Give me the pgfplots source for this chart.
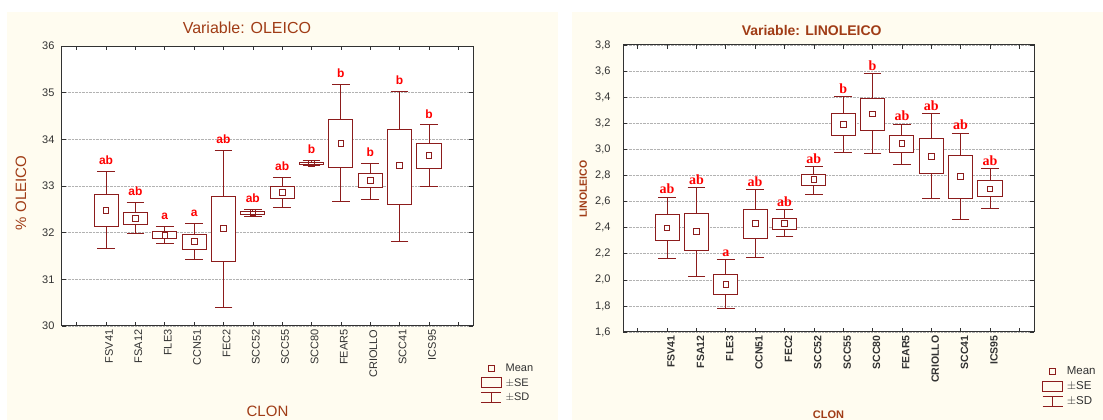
\documentclass[border=0pt]{standalone}
\usepackage{fontspec}
\setmainfont{Liberation Sans}
\newfontfamily\timesf{Liberation Serif}
\usepackage{pgfplots}
\usepackage{pgfplotstable}
\pgfplotsset{compat=1.18}
\definecolor{boxc}{RGB}{140,28,28}
\definecolor{labc}{RGB}{255,0,0}
\definecolor{titc}{RGB}{160,60,22}
\definecolor{cream}{RGB}{255,252,240}
\definecolor{axc}{RGB}{50,50,50}
% x  SD low  SE low  mean  SE high  SD high  letter
\pgfplotstableread{
x sdlo selo mean sehi sdhi l
1 31.66 32.14 32.48 32.82 33.31 ab
2 31.99 32.18 32.31 32.44 32.64 ab
3 31.77 31.88 31.94 32.03 32.14 a
4 31.43 31.65 31.81 31.97 32.20 a
5 30.39 31.39 32.09 32.78 33.76 ab
6 32.34 32.38 32.43 32.46 32.49 ab
7 32.54 32.74 32.86 33.00 33.18 ab
8 33.44 33.47 33.49 33.51 33.54 b
9 32.66 33.40 33.91 34.43 35.17 b
10 32.72 32.96 33.12 33.27 33.49 b
11 31.81 32.61 33.44 34.21 35.03 b
12 32.99 33.38 33.66 33.91 34.31 b
}\tabL
\pgfplotstableread{
x sdlo selo mean sehi sdhi l
1 2.160 2.300 2.398 2.498 2.635 ab
2 2.025 2.227 2.370 2.505 2.707 ab
3 1.778 1.887 1.964 2.040 2.153 a
4 2.168 2.320 2.431 2.536 2.690 ab
5 2.331 2.385 2.431 2.472 2.538 ab
6 2.658 2.722 2.768 2.810 2.867 ab
7 2.980 3.107 3.191 3.273 3.404 b
8 2.970 3.146 3.271 3.394 3.580 b
9 2.885 2.980 3.044 3.107 3.194 ab
10 2.620 2.819 2.946 3.084 3.273 ab
11 2.459 2.620 2.793 2.957 3.123 ab
12 2.548 2.636 2.697 2.763 2.852 ab
}\tabR
\newcommand{\bx}[3]{%
  \pgfmathsetmacro\xl{#1-0.41}\pgfmathsetmacro\xr{#1+0.41}%
  \addplot[boxc, fill=white, line width=0.9pt, forget plot, mark=none]
    coordinates {(\xl,#2) (\xr,#2) (\xr,#3) (\xl,#3)} --cycle;}
\pgfplotsset{
  common/.style={
    scale only axis, width=411pt,
    xmin=-0.5, xmax=13.5,
    xtick={0,...,13},
    xticklabels={,FSV41,FSA12,FLE3,CCN51,FEC2,SCC52,SCC55,SCC80,FEAR5,CRIOLLO,SCC41,ICS95,},
    tick align=inside, major tick length=4pt,
    tick style={axc, line width=0.6pt},
    axis line style={axc, line width=1pt},
    axis background/.style={fill=white},
    ymajorgrids, grid style={densely dotted, black!30, line width=0.6pt},
    /pgf/number format/assume math mode=true,
    legend cell align=left,
  },
  whiskup/.style={draw=none, mark=none, forget plot,
    error bars/.cd, y dir=plus, y explicit,
    error bar style={draw=boxc, line width=0.9pt},
    error mark=|, error mark options={draw=boxc, line width=0.9pt, mark size=8.8pt}},
  whisklo/.style={draw=none, mark=none, forget plot,
    error bars/.cd, y dir=minus, y explicit,
    error bar style={draw=boxc, line width=0.9pt},
    error mark=|, error mark options={draw=boxc, line width=0.9pt, mark size=8.8pt}},
  means/.style={only marks, mark=square, mark size=2.8pt, forget plot,
    mark options={draw=boxc, fill=white, line width=0.8pt}},
  leg/.style={legend style={draw=none, fill=none, inner sep=0pt, row sep=2.8pt, column sep=2.5pt, text=axc, nodes={inner sep=1.2pt}}},
}
\begin{document}
\begin{tikzpicture}
\path[use as bounding box] (0,0) rectangle (1103pt,420pt);
\fill[cream] (7pt,0) rectangle (558pt,408pt);
\fill[cream] (572pt,0) rectangle (1103pt,408pt);
% ---------------- LEFT: OLEICO
\begin{axis}[common, leg,
  at={(62pt,94pt)}, anchor=south west, height=280pt,
  ymin=30, ymax=36, ytick={30,...,36},
  yticklabel style={font=\fontsize{11}{12}\selectfont, text=axc, xshift=-4pt},
  xticklabel style={font=\fontsize{11}{12}\selectfont, text=axc, rotate=90, anchor=east, yshift=-3pt},
  title={Variable: OLEICO},
  title style={at={(0.45,1)}, anchor=center, yshift=12pt, font=\fontsize{16}{18}\selectfont, text=titc},
  xlabel={CLON},
  xlabel style={at={(axis description cs:0.5,-0.305)}, anchor=center, font=\fontsize{15}{17}\selectfont, text=titc},
  ylabel={\% OLEICO},
  ylabel style={at={(axis description cs:-0.0998,0.475)}, anchor=center, font=\fontsize{15}{17}\selectfont, text=titc},
  legend style={at={(1.019,-0.131)}, anchor=north west, font=\fontsize{11}{12}\selectfont},
]
\addplot[whiskup] table[x=x, y=sehi, y error plus expr=\thisrow{sdhi}-\thisrow{sehi}] {\tabL};
\addplot[whisklo] table[x=x, y=selo, y error minus expr=\thisrow{selo}-\thisrow{sdlo}] {\tabL};
\bx{1}{32.14}{32.82}
\bx{2}{32.18}{32.44}
\bx{3}{31.88}{32.03}
\bx{4}{31.65}{31.97}
\bx{5}{31.39}{32.78}
\bx{6}{32.38}{32.46}
\bx{7}{32.74}{33.00}
\bx{8}{33.47}{33.51}
\bx{9}{33.40}{34.43}
\bx{10}{32.96}{33.27}
\bx{11}{32.61}{34.21}
\bx{12}{33.38}{33.91}
\addplot[means] table[x=x, y=mean] {\tabL};
\addplot[draw=none, forget plot, nodes near coords, point meta=explicit symbolic,
  nodes near coords style={anchor=south, yshift=5.5pt, inner sep=1pt, text=labc, font=\bfseries\fontsize{12}{13}\selectfont}]
  table[x=x, y=sdhi, meta=l] {\tabL};
\addlegendimage{legend image code/.code={\draw[boxc, line width=0.8pt] (7pt,-3pt) rectangle (13pt,3pt);}}
\addlegendentry{Mean}
\addlegendimage{legend image code/.code={\draw[boxc, line width=0.9pt] (0pt,-5pt) rectangle (20pt,5pt);}}
\addlegendentry{$\pm$SE}
\addlegendimage{legend image code/.code={\draw[boxc, line width=0.9pt] (0pt,5pt) -- (20pt,5pt) (10pt,5pt) -- (10pt,-5pt) (0pt,-5pt) -- (20pt,-5pt);}}
\addlegendentry{$\pm$SD}
\end{axis}
% ---------------- RIGHT: LINOLEICO
\begin{axis}[common, leg,
  at={(623pt,88pt)}, anchor=south west, height=287pt,
  ymin=1.6, ymax=3.8, ytick={1.6,1.8,2.0,2.2,2.4,2.6,2.8,3.0,3.2,3.4,3.6,3.8},
  yticklabel style={font=\fontsize{11}{12}\selectfont, text=axc, xshift=-9pt, /pgf/number format/.cd, use comma, fixed, fixed zerofill, precision=1},
  xticklabel style={font=\bfseries\fontsize{10.5}{12}\selectfont, text=axc, rotate=90, anchor=east, yshift=-4pt},
  title={Variable: LINOLEICO},
  title style={at={(0.459,1)}, anchor=center, yshift=9pt, font=\bfseries\fontsize{14}{16}\selectfont, text=titc},
  xlabel={CLON},
  xlabel style={at={(axis description cs:0.5,-0.287)}, anchor=center, font=\bfseries\fontsize{11}{13}\selectfont, text=titc},
  ylabel={LINOLEICO},
  ylabel style={at={(axis description cs:-0.097,0.498)}, anchor=center, font=\bfseries\fontsize{10.5}{12}\selectfont, text=titc},
  legend style={at={(1.0195,-0.117)}, anchor=north west, font=\fontsize{11.5}{12}\selectfont},
]
\addplot[whiskup] table[x=x, y=sehi, y error plus expr=\thisrow{sdhi}-\thisrow{sehi}] {\tabR};
\addplot[whisklo] table[x=x, y=selo, y error minus expr=\thisrow{selo}-\thisrow{sdlo}] {\tabR};
\bx{1}{2.300}{2.498}
\bx{2}{2.227}{2.505}
\bx{3}{1.887}{2.040}
\bx{4}{2.320}{2.536}
\bx{5}{2.385}{2.472}
\bx{6}{2.722}{2.810}
\bx{7}{3.107}{3.273}
\bx{8}{3.146}{3.394}
\bx{9}{2.980}{3.107}
\bx{10}{2.819}{3.084}
\bx{11}{2.620}{2.957}
\bx{12}{2.636}{2.763}
\addplot[means] table[x=x, y=mean] {\tabR};
\addplot[draw=none, forget plot, nodes near coords, point meta=explicit symbolic,
  nodes near coords style={anchor=south, yshift=2pt, inner sep=1pt, text=labc, font=\timesf\bfseries\fontsize{14}{15}\selectfont}]
  table[x=x, y=sdhi, meta=l] {\tabR};
\addlegendimage{legend image code/.code={\draw[boxc, line width=0.8pt] (7pt,-3pt) rectangle (13pt,3pt);}}
\addlegendentry{Mean}
\addlegendimage{legend image code/.code={\draw[boxc, line width=0.9pt] (0pt,-5pt) rectangle (20pt,5pt);}}
\addlegendentry{$\pm$SE}
\addlegendimage{legend image code/.code={\draw[boxc, line width=0.9pt] (0pt,5pt) -- (20pt,5pt) (10pt,5pt) -- (10pt,-5pt) (0pt,-5pt) -- (20pt,-5pt);}}
\addlegendentry{$\pm$SD}
\end{axis}
\end{tikzpicture}
\end{document}
